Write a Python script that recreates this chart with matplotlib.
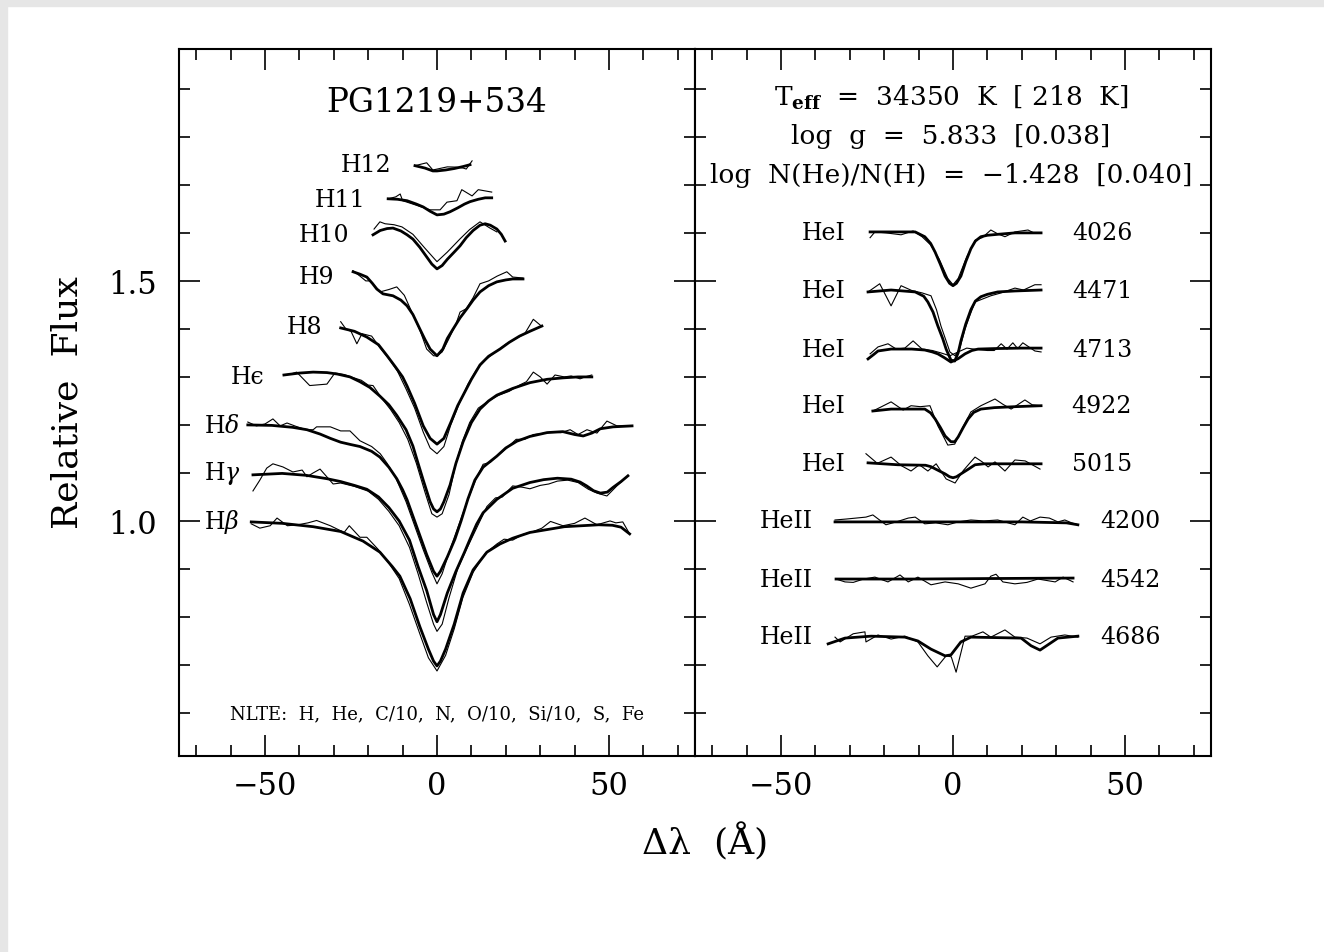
import matplotlib
matplotlib.use("Agg")
import matplotlib.pyplot as plt
from matplotlib.ticker import MultipleLocator, FormatStrFormatter
from matplotlib.patches import Rectangle

plt.rcParams['font.family'] = ['DejaVu Serif']
plt.rcParams['mathtext.fontset'] = 'dejavuserif'

# ---------------- Balmer lines (left panel) ----------------
hb_xm = [-54, -45, -36, -28, -21.5, -16.6, -13, -10.8, -7.8, -5, -2.5, -1, 0, 1, 2.5, 5, 7.6, 10.5,
         14.5, 18.3, 22, 27, 32, 37, 42, 47, 51, 53.5, 56]
hb_fm = [0.998, 0.995, 0.988, 0.978, 0.958, 0.935, 0.905, 0.885, 0.838, 0.78, 0.733, 0.708, 0.698, 0.708,
         0.733, 0.785, 0.85, 0.898, 0.935, 0.952, 0.964, 0.976, 0.982, 0.988, 0.99, 0.992, 0.991, 0.987, 0.973]
hb_xo = [-54, -51.5, -48.5, -46.5, -43.5, -40.5, -37.5, -35, -31, -27, -25.5, -22.4, -20.4, -17, -14, -11,
         -8, -5, -2.5, 0, 2.5, 5, 7.5, 10.5, 14, 17.4, 19.5, 22, 25, 28, 30.5, 33, 36.6, 40, 43, 46.5,
         50.3, 52, 54, 56]
hb_fo = [0.994, 0.985, 0.99, 1.006, 0.99, 0.992, 0.996, 1.001, 0.99, 0.976, 0.99, 0.966, 0.966, 0.94,
         0.912, 0.88, 0.826, 0.765, 0.715, 0.6875, 0.72, 0.775, 0.84, 0.893, 0.932, 0.952, 0.962, 0.96,
         0.972, 0.978, 0.985, 0.999, 0.99, 0.995, 1.006, 0.992, 1.0, 0.996, 0.998, 0.973]

hg_xm = [-53.5, -45, -38, -32, -28, -24, -20.4, -17, -14, -11, -8, -5.5, -3, -1, 0, 1, 3, 5.5, 8, 9.6,
         11.5, 13.4, 17.4, 22, 27, 31, 35, 39, 41.6, 43.5, 45.5, 47.5, 49.5, 51.2, 53.5, 55.5]
hg_fm = [1.096, 1.099, 1.095, 1.088, 1.082, 1.074, 1.066, 1.05, 1.028, 1.0, 0.96, 0.905, 0.855, 0.805,
         0.79, 0.805, 0.85, 0.895, 0.935, 0.962, 0.993, 1.017, 1.045, 1.068, 1.08, 1.086, 1.089, 1.087,
         1.081, 1.073, 1.063, 1.058, 1.06, 1.07, 1.082, 1.094]
hg_xo = [-53.5, -51.5, -49.5, -47.7, -44.8, -41.9, -39.2, -37.8, -36, -34, -30.2, -28, -24, -20, -17,
         -14, -11, -8, -5.5, -3, -1, 0, 1.5, 3.5, 6, 8.5, 10.5, 12.5, 14.5, 17, 19, 22, 25, 27, 30, 32.5,
         35, 38, 41, 44, 46.5, 49.4, 52.3, 55.5]
hg_fo = [1.0625, 1.085, 1.11, 1.119, 1.1125, 1.102, 1.106, 1.092, 1.1, 1.108, 1.077, 1.079, 1.072,
         1.062, 1.045, 1.02, 0.99, 0.945, 0.89, 0.83, 0.785, 0.77, 0.785, 0.84, 0.9, 0.94, 0.97, 1.0,
         1.03, 1.048, 1.05, 1.073, 1.07, 1.067, 1.074, 1.077, 1.083, 1.085, 1.08, 1.066, 1.058, 1.052,
         1.073, 1.094]

hd_xm = [-55, -48, -42, -37.8, -34, -31, -28, -25, -22.4, -19, -16.6, -14, -11.7, -10, -8.7, -7, -5, -3,
         -1, 0, 1, 3, 5.2, 7, 9, 11, 13.4, 17.4, 20, 23.2, 27, 32, 36.6, 40, 42.5, 45, 47.5, 51.2, 56.7]
hd_fm = [1.2, 1.199, 1.195, 1.19, 1.181, 1.172, 1.164, 1.159, 1.155, 1.145, 1.133, 1.112, 1.088, 1.065,
         1.044, 1.01, 0.97, 0.93, 0.895, 0.885, 0.895, 0.925, 0.962, 1.0, 1.046, 1.085, 1.112, 1.135,
         1.152, 1.166, 1.176, 1.184, 1.186, 1.18, 1.177, 1.183, 1.192, 1.196, 1.198]
hd_xo = [-55, -52.5, -50, -47.7, -45.6, -43.6, -41, -38, -36, -35, -31, -28, -25.3, -22.4, -19, -16.5,
         -14.5, -12, -9, -6.5, -4, -1.5, 0, 1.5, 4, 6.5, 9, 11.5, 13.4, 15.5, 17.4, 20, 23, 25.5, 28,
         30.5, 33, 36, 38.7, 41, 43.6, 46.5, 49.4, 52.3, 56.7]
hd_fo = [1.206, 1.198, 1.202, 1.2125, 1.198, 1.204, 1.197, 1.19, 1.19, 1.196, 1.196, 1.1875, 1.1875,
         1.167, 1.155, 1.14, 1.12, 1.09, 1.04, 0.99, 0.94, 0.893, 0.869, 0.89, 0.945, 0.995, 1.045, 1.09,
         1.118, 1.122, 1.135, 1.15, 1.17, 1.17, 1.18, 1.182, 1.185, 1.184, 1.19, 1.18, 1.19, 1.183,
         1.208, 1.198, 1.198]

he_xm = [-44.5, -40, -36, -32, -29, -25.3, -22.4, -19.5, -16.6, -14, -11.7, -9, -7, -5.5, -4, -2, -1, 0,
         1, 2, 3.8, 5.5, 7.6, 10, 12.5, 15, 17.4, 22, 27, 32, 36.6, 41, 45]
he_fm = [1.304, 1.308, 1.31, 1.309, 1.306, 1.3, 1.29, 1.278, 1.26, 1.242, 1.22, 1.19, 1.156, 1.12, 1.085,
         1.04, 1.025, 1.019, 1.025, 1.04, 1.075, 1.12, 1.165, 1.205, 1.233, 1.25, 1.262, 1.276, 1.288,
         1.295, 1.298, 1.3, 1.3]
he_xo = [-44.5, -42.5, -40.8, -37, -32, -29.7, -27, -25, -22, -20, -18.6, -16, -13.5, -11, -8.5, -6,
         -3.5, -1.5, 0, 1.5, 3.5, 5.5, 7.5, 9.5, 12, 15, 18, 21, 24, 26, 28, 30, 32, 34.3, 37, 39, 41.6,
         43, 45]
he_fo = [1.304, 1.306, 1.31, 1.282, 1.285, 1.308, 1.305, 1.3, 1.293, 1.283, 1.282, 1.255, 1.232, 1.205,
         1.17, 1.12, 1.06, 1.015, 1.008, 1.015, 1.055, 1.12, 1.168, 1.205, 1.235, 1.25, 1.262, 1.27,
         1.283, 1.29, 1.31, 1.3, 1.285, 1.304, 1.3, 1.302, 1.296, 1.3, 1.304]

h8_xm = [-28, -24, -20.4, -17, -14.5, -12, -10, -8.7, -6.5, -4, -2, 0, 2, 4, 6, 7.6, 10, 12.5, 15, 18.3,
         21, 24, 27, 30.5]
h8_fm = [1.402, 1.395, 1.383, 1.367, 1.344, 1.32, 1.3, 1.281, 1.245, 1.198, 1.172, 1.16, 1.172, 1.205,
         1.24, 1.262, 1.295, 1.325, 1.343, 1.358, 1.372, 1.385, 1.395, 1.406]
h8_xo = [-28, -26.5, -25, -23.3, -21.8, -19, -16.5, -14, -11.5, -9, -6.5, -4, -2, 0, 2, 4, 6.5, 9, 11.5,
         14, 17, 20, 23, 25.5, 28, 30.5]
h8_fo = [1.415, 1.4, 1.395, 1.369, 1.39, 1.385, 1.36, 1.338, 1.312, 1.275, 1.235, 1.185, 1.152, 1.14,
         1.155, 1.2, 1.245, 1.285, 1.315, 1.335, 1.352, 1.368, 1.38, 1.39, 1.42, 1.405]

h9_xm = [-24.4, -22.4, -20.4, -18.8, -17.5, -15.7, -12.8, -10.5, -8.7, -7, -5, -3.5, -2, 0, 1.7, 3, 4.7,
         6.7, 8.7, 10.5, 12.5, 15, 17.4, 20, 22, 25]
h9_fm = [1.519, 1.514, 1.508, 1.495, 1.483, 1.473, 1.469, 1.46, 1.448, 1.43, 1.4, 1.378, 1.358, 1.344,
         1.358, 1.38, 1.4, 1.423, 1.442, 1.46, 1.477, 1.49, 1.498, 1.502, 1.504, 1.504]
h9_xo = [-24.4, -22.4, -20.7, -19.5, -17.5, -16.6, -14, -11.7, -9.5, -7, -5, -3, -1, 0, 1.5, 3.5, 5.5,
         6.7, 8.5, 10.5, 12.5, 15, 17.5, 20.3, 22, 25]
h9_fo = [1.521, 1.51, 1.5, 1.5, 1.485, 1.477, 1.482, 1.4875, 1.47, 1.43, 1.398, 1.358, 1.344, 1.344,
         1.352, 1.38, 1.41, 1.435, 1.442, 1.465, 1.494, 1.5, 1.51, 1.519, 1.508, 1.506]

h10_xm = [-18.6, -16.5, -14.5, -12.8, -10.5, -8.7, -7, -5, -3, -1.5, 0, 1.5, 3, 5, 6.7, 8.5, 10.5, 12.5,
          14, 15.5, 17.4, 18.7, 19.8]
h10_fm = [1.596, 1.605, 1.609, 1.61, 1.604, 1.596, 1.587, 1.57, 1.55, 1.535, 1.525, 1.532, 1.545, 1.56,
          1.573, 1.59, 1.605, 1.616, 1.619, 1.616, 1.608, 1.597, 1.583]
h10_xo = [-18.3, -16.6, -15.1, -12.5, -10.2, -7, -3.5, 0, 3, 6.7, 9.5, 12.5, 15.4, 17.4]
h10_fo = [1.608, 1.623, 1.619, 1.617, 1.6125, 1.597, 1.568, 1.54, 1.56, 1.5875, 1.607, 1.623, 1.61, 1.602]

h11_xm = [-14.2, -11.5, -8.7, -6, -4, -2, 0, 2, 3.8, 6, 8, 9.6, 12, 14, 15.9]
h11_fm = [1.671, 1.67, 1.667, 1.66, 1.654, 1.645, 1.6375, 1.639, 1.644, 1.652, 1.66, 1.665, 1.67, 1.673,
          1.673]
h11_xo = [-14.2, -12, -10.7, -10, -7, -4.5, -2, 0.9, 2.9, 5.8, 7.2, 10.2, 12, 15.9]
h11_fo = [1.671, 1.675, 1.681, 1.667, 1.66, 1.654, 1.648, 1.648, 1.664, 1.667, 1.69, 1.677, 1.69, 1.685]

h12_xm = [-6.4, -3.5, -1.2, 0, 2.5, 5, 7.5, 9.6]
h12_fm = [1.74, 1.735, 1.729, 1.729, 1.731, 1.734, 1.738, 1.742]
h12_xo = [-6.4, -3, -1.2, 3, 5.5, 7.6, 8.5, 10.2]
h12_fo = [1.74, 1.746, 1.731, 1.7375, 1.737, 1.735, 1.733, 1.75]

balmer_names = [r'H$\beta$', r'H$\gamma$', r'H$\delta$', 'H\u03f5', 'H8', 'H9', 'H10', 'H11', 'H12']
balmer_label_x = [-62.5, -62.5, -62.5, -55.2, -38.4, -35.1, -32.7, -28.2, -20.6]
balmer_label_y = [1.0, 1.1, 1.198, 1.3, 1.404, 1.51, 1.596, 1.669, 1.742]

# ---------------- Helium lines (right panel) ----------------
he4026_xm = [-24.1, -18, -11, -8.2, -6.5, -5.2, -3.7, -2.3, -1, 0, 1, 2.3, 3.7, 5.2, 6.5, 8.1, 10, 13, 18, 25.6]
he4026_fm = [1.602, 1.602, 1.602, 1.592, 1.578, 1.56, 1.535, 1.51, 1.495, 1.49, 1.495, 1.51, 1.54, 1.567,
             1.583, 1.592, 1.595, 1.597, 1.6, 1.6]
he4026_xo = [-24.1, -22.7, -19.5, -15.1, -11.6, -9, -6.5, -4, -1.5, 0, 1.5, 4, 6.5, 8.5, 11, 13, 15.1, 18,
             21.8, 23.5, 25.6]
he4026_fo = [1.59, 1.602, 1.6, 1.596, 1.604, 1.592, 1.575, 1.545, 1.505, 1.492, 1.505, 1.55, 1.585, 1.59,
             1.606, 1.598, 1.592, 1.602, 1.606, 1.6, 1.6]

he4471_xm = [-24.7, -18, -11, -8.5, -7.3, -5.8, -4.4, -3, -2, -0.6, 0.5, 1.5, 2.3, 3.7, 5.2, 6.5, 8.1, 10,
             13, 18, 25.6]
he4471_fm = [1.477, 1.481, 1.477, 1.468, 1.456, 1.435, 1.406, 1.38, 1.358, 1.335, 1.333, 1.35, 1.375, 1.41,
             1.44, 1.458, 1.467, 1.472, 1.477, 1.479, 1.481]
he4471_xo = [-24.7, -21.3, -18, -15.1, -12, -9, -6.4, -4.8, -3.5, -2, -0.9, 0.6, 2, 3.5, 5, 6.4, 8.5, 11,
             14, 18, 20.5, 23.8, 25.6]
he4471_fo = [1.477, 1.494, 1.448, 1.49, 1.48, 1.475, 1.469, 1.44, 1.406, 1.375, 1.352, 1.344, 1.36, 1.4,
             1.43, 1.456, 1.462, 1.469, 1.475, 1.485, 1.481, 1.492, 1.492]

he4713_xm = [-24.7, -23, -21.8, -18, -12, -8.2, -6, -4.4, -2.5, -0.6, 1.5, 3.5, 5.5, 7.3, 12, 20, 25.6]
he4713_fm = [1.3375, 1.347, 1.354, 1.358, 1.358, 1.356, 1.352, 1.348, 1.34, 1.331, 1.338, 1.348, 1.355,
             1.358, 1.359, 1.36, 1.36]
he4713_xo = [-24.1, -21.8, -18.9, -16.5, -14, -11.6, -9, -6, -3.5, -0.9, 1.5, 4, 7, 10, 12, 14, 15.7,
             17.4, 18.8, 20.3, 23.8, 25.6]
he4713_fo = [1.348, 1.3625, 1.369, 1.358, 1.36, 1.375, 1.358, 1.355, 1.35, 1.344, 1.352, 1.36, 1.357,
             1.355, 1.355, 1.369, 1.358, 1.371, 1.359, 1.371, 1.354, 1.352]

he4922_xm = [-23.3, -18, -12, -8.2, -6.5, -5.2, -3.7, -2.3, -0.6, 0.5, 1.5, 3, 4.4, 6, 8.1, 12, 18, 25.6]
he4922_fm = [1.229, 1.233, 1.233, 1.233, 1.225, 1.2125, 1.195, 1.177, 1.165, 1.165, 1.175, 1.195, 1.2125,
             1.226, 1.233, 1.236, 1.238, 1.24]
he4922_xo = [-23.3, -20.9, -18, -14.5, -12.2, -9.5, -6.7, -4.4, -2.5, -1.5, 0.5, 2.5, 5.2, 8.1, 12.2,
             14.5, 16.9, 20.9, 23, 25.6]
he4922_fo = [1.229, 1.2375, 1.248, 1.231, 1.24, 1.238, 1.24, 1.198, 1.172, 1.158, 1.16, 1.19, 1.227,
             1.24, 1.254, 1.243, 1.233, 1.252, 1.242, 1.24]

he5015_xm = [-24.7, -16, -8, -6.4, -4.5, -2.3, -1, 0, 1, 2.3, 4.5, 6.4, 9, 25.6]
he5015_fm = [1.121, 1.117, 1.116, 1.113, 1.106, 1.098, 1.092, 1.09, 1.092, 1.098, 1.108, 1.117, 1.119,
             1.119]
he5015_xo = [-25.3, -22, -18, -15, -12.2, -9.8, -7.3, -4.9, -2, 0.6, 3, 6.4, 8.5, 10.2, 12.2, 15.1, 18,
             21, 25.3]
he5015_fo = [1.14, 1.12, 1.133, 1.115, 1.104, 1.117, 1.104, 1.119, 1.0875, 1.079, 1.105, 1.133, 1.123,
             1.1125, 1.123, 1.104, 1.127, 1.125, 1.108]

he4200_xm = [-34.3, -20, 0, 20, 33, 36.3]
he4200_fm = [0.998, 0.998, 0.998, 0.998, 0.996, 0.992]
he4200_xo = [-34.3, -31, -25.3, -23.3, -19.5, -16.5, -13, -11, -8.2, -5, -1.5, 1.5, 5.2, 9, 13, 18, 20.3,
             22.5, 25.3, 28, 30.5, 32.5, 34.5, 36.3]
he4200_fo = [1.002, 1.004, 1.008, 1.0125, 0.992, 0.998, 1.006, 1.008, 0.994, 0.996, 0.992, 0.998, 1.002,
             1.0, 1.002, 0.992, 1.008, 1.0, 1.008, 1.006, 0.998, 1.002, 0.996, 0.992]

he4542_xm = [-34, -10, 10, 34.9]
he4542_fm = [0.879, 0.879, 0.88, 0.881]
he4542_xo = [-34, -31.4, -29, -26, -22.7, -18.9, -15.4, -13, -10.2, -6.4, -2.3, 1.5, 5.2, 9.3, 11, 12.5,
             14.5, 18, 21.5, 24.7, 29.7, 32, 34.9]
he4542_fo = [0.879, 0.873, 0.872, 0.879, 0.883, 0.873, 0.8875, 0.873, 0.883, 0.867, 0.873, 0.869, 0.86,
             0.869, 0.885, 0.889, 0.873, 0.869, 0.872, 0.879, 0.873, 0.883, 0.873]

he4686_xm = [-36.3, -31.4, -23.8, -14, -10.2, -6.4, -2.3, -0.6, 2.3, 5.2, 19.8, 22.7, 25.3, 27.6, 30.5, 36.3]
he4686_fm = [0.744, 0.756, 0.76, 0.758, 0.75, 0.733, 0.719, 0.721, 0.748, 0.758, 0.756, 0.74, 0.731, 0.742,
             0.756, 0.76]
he4686_xo = [-34.3, -32.8, -29, -25.6, -25.3, -21.8, -18, -14, -10.2, -7.3, -4.6, -2, -0.5, 0.9, 3.5, 5.5,
             8.7, 11, 15.1, 18, 21.5, 25.3, 28.5, 32.5, 36.3]
he4686_fo = [0.758, 0.748, 0.765, 0.769, 0.748, 0.7625, 0.754, 0.76, 0.748, 0.719, 0.696, 0.719, 0.717,
             0.685, 0.76, 0.76, 0.769, 0.758, 0.773, 0.758, 0.756, 0.744, 0.758, 0.7625, 0.758]

he_names = ['HeI', 'HeI', 'HeI', 'HeI', 'HeI', 'HeII', 'HeII', 'HeII']
he_waves = ['4026', '4471', '4713', '4922', '5015', '4200', '4542', '4686']
he_label_x = [-37.5, -37.5, -37.5, -37.5, -37.5, -48.4, -48.4, -48.4]
he_wave_x = [43.3, 43.3, 43.3, 43.3, 43.3, 51.5, 51.5, 51.5]
he_label_y = [1.6, 1.479, 1.358, 1.24, 1.119, 1.0, 0.879, 0.76]

# ---------------- figure ----------------
fig = plt.figure(figsize=(13.24, 9.53), dpi=100)
fig.patch.set_facecolor('white')
# light grey frame of the original screenshot
fig.patches.append(Rectangle((0, 0), 7 / 1324, 1, transform=fig.transFigure, color='#e6e6e6', zorder=0))
fig.patches.append(Rectangle((0, 1 - 7 / 953), 1, 7 / 953, transform=fig.transFigure, color='#e6e6e6', zorder=0))

axL = fig.add_axes([179 / 1324, 1 - 757 / 953, 516 / 1324, 707 / 953])
axR = fig.add_axes([695 / 1324, 1 - 757 / 953, 516 / 1324, 707 / 953])

thick = dict(color='black', lw=2.0, solid_joinstyle='round')
thin = dict(color='black', lw=0.8)

left_lines = [(hb_xm, hb_fm, hb_xo, hb_fo), (hg_xm, hg_fm, hg_xo, hg_fo), (hd_xm, hd_fm, hd_xo, hd_fo),
              (he_xm, he_fm, he_xo, he_fo), (h8_xm, h8_fm, h8_xo, h8_fo), (h9_xm, h9_fm, h9_xo, h9_fo),
              (h10_xm, h10_fm, h10_xo, h10_fo), (h11_xm, h11_fm, h11_xo, h11_fo),
              (h12_xm, h12_fm, h12_xo, h12_fo)]
for xm, fm, xo, fo in left_lines:
    axL.plot(xo, fo, **thin)
    axL.plot(xm, fm, **thick)
for name, lx, ly in zip(balmer_names, balmer_label_x, balmer_label_y):
    axL.text(lx, ly, name, ha='center', va='center', fontsize=17)

right_lines = [(he4026_xm, he4026_fm, he4026_xo, he4026_fo), (he4471_xm, he4471_fm, he4471_xo, he4471_fo),
               (he4713_xm, he4713_fm, he4713_xo, he4713_fo), (he4922_xm, he4922_fm, he4922_xo, he4922_fo),
               (he5015_xm, he5015_fm, he5015_xo, he5015_fo), (he4200_xm, he4200_fm, he4200_xo, he4200_fo),
               (he4542_xm, he4542_fm, he4542_xo, he4542_fo), (he4686_xm, he4686_fm, he4686_xo, he4686_fo)]
for xm, fm, xo, fo in right_lines:
    axR.plot(xo, fo, **thin)
    axR.plot(xm, fm, **thick)
for name, wave, lx, wx, ly in zip(he_names, he_waves, he_label_x, he_wave_x, he_label_y):
    axR.text(lx, ly, name, ha='center', va='center', fontsize=17)
    axR.text(wx, ly, wave, ha='center', va='center', fontsize=17)

axL.text(0, 1.873, 'PG1219+534', ha='center', va='center', fontsize=23.5)
axL.text(0, 0.60, 'NLTE:  H,  He,  C/10,  N,  O/10,  Si/10,  S,  Fe', ha='center', va='center',
         fontsize=13)

axR.text(-0.6, 1.883, r'T$_{\mathbf{eff}}$  =  34350  K  [ 218  K]', ha='center', va='center', fontsize=19)
axR.text(-0.6, 1.802, 'log  g  =  5.833  [0.038]', ha='center', va='center', fontsize=19)
axR.text(-0.6, 1.721, 'log  N(He)/N(H)  =  \u22121.428  [0.040]', ha='center', va='center', fontsize=19)

for ax in (axL, axR):
    ax.set_xlim(-75, 75)
    ax.set_ylim(0.5104, 1.983)
    ax.xaxis.set_major_locator(MultipleLocator(50))
    ax.xaxis.set_minor_locator(MultipleLocator(10))
    ax.yaxis.set_major_locator(MultipleLocator(0.5))
    ax.yaxis.set_minor_locator(MultipleLocator(0.1))
    ax.tick_params(which='both', direction='in', top=True, right=True, width=1.2, labelsize=22)
    ax.tick_params(which='major', length=15)
    ax.tick_params(which='minor', length=8)
    ax.tick_params(axis='x', pad=10)
    ax.tick_params(axis='y', pad=16)
    for sp in ax.spines.values():
        sp.set_linewidth(1.5)

axL.yaxis.set_major_formatter(FormatStrFormatter('%.1f'))
axR.tick_params(labelleft=False)

fig.text(68 / 1324, 1 - 403 / 953, 'Relative  Flux', rotation=90, ha='center', va='center', fontsize=26)
fig.text(705 / 1324, 1 - 842 / 953, '\u0394\u03bb  (\u00c5)', ha='center', va='center', fontsize=26)

fig.savefig('out.png', dpi=100, facecolor='white')
